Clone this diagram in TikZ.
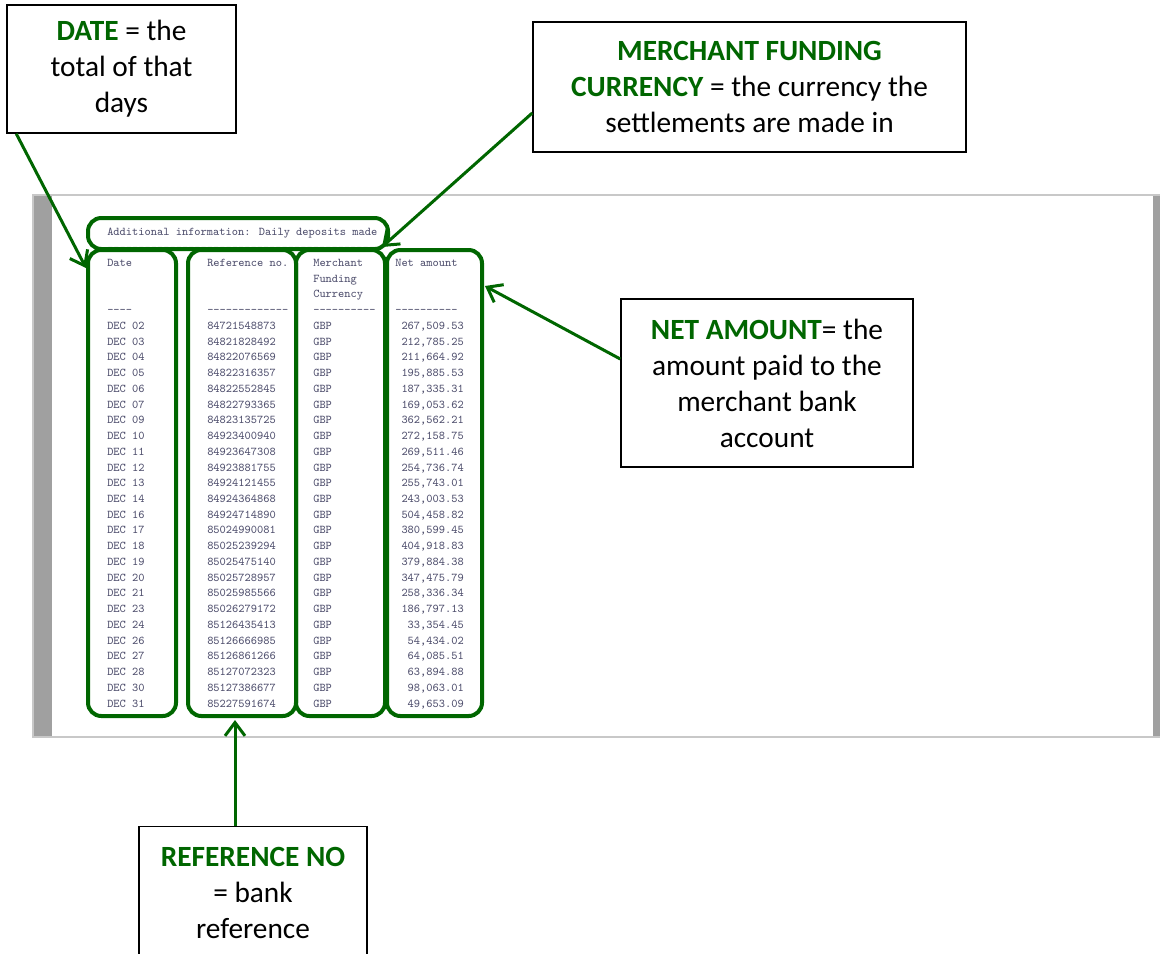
\documentclass[tikz,border=0pt]{standalone}
\usepackage{fontspec}
\setmainfont{Carlito}
\usetikzlibrary{positioning,fit,calc,arrows.meta}
\definecolor{notegreen}{RGB}{0,102,0}
\definecolor{listgrey}{RGB}{80,80,110}
\definecolor{panelline}{RGB}{200,200,200}
\definecolor{panelbar}{RGB}{160,160,160}
\tikzstyle{note}=[rectangle,draw=black,line width=1.1pt,fill=white,align=center,inner sep=0pt,font=\fontsize{22}{27}\selectfont]
\tikzstyle{colbox}=[rectangle,draw=notegreen,line width=3pt,rounded corners=10pt,inner sep=0pt]
\tikzstyle{listing}=[anchor=base west,align=left,inner sep=0pt,text=listgrey,font=\ttfamily\fontsize{8.9}{11.8}\selectfont]
\tikzstyle{pointer}=[-{Straight Barb[length=10pt,width=15pt]},draw=notegreen,line width=2.25pt]
\newcommand{\kw}[1]{\textcolor{notegreen}{\textbf{#1}}}
\newcommand{\numpad}{\hphantom{0}}

\begin{document}
\begin{tikzpicture}[x=0.75pt,y=-0.75pt]
    \useasboundingbox (0,0) rectangle (1160,953);

    % Auszug (base = letzte Zeile)
    \node[draw=panelline, line width=1.5pt, inner sep=0pt, fit={(33,195) (1175,737)}] (panel) {};
    \fill[panelbar] (34,196) rectangle (52,736);
    \fill[panelbar] (1153,196) rectangle (1175,736);

    \node[listing] (headtext) at (107,251.2) {Additional information: Daily deposits made\\ -------------------------------------------};
    \node[listing] (datetext) at (107,707) {Date\\ \mbox{}\\ \mbox{}\\ ----\\ DEC 02\\ DEC 03\\ DEC 04\\ DEC 05\\ DEC 06\\ DEC 07\\ DEC 09\\ DEC 10\\ DEC 11\\ DEC 12\\ DEC 13\\ DEC 14\\ DEC 16\\ DEC 17\\ DEC 18\\ DEC 19\\ DEC 20\\ DEC 21\\ DEC 23\\ DEC 24\\ DEC 26\\ DEC 27\\ DEC 28\\ DEC 30\\ DEC 31};
    \node[listing] (reftext) at (207,707) {Reference no.\\ \mbox{}\\ \mbox{}\\ -------------\\ 84721548873\\ 84821828492\\ 84822076569\\ 84822316357\\ 84822552845\\ 84822793365\\ 84823135725\\ 84923400940\\ 84923647308\\ 84923881755\\ 84924121455\\ 84924364868\\ 84924714890\\ 85024990081\\ 85025239294\\ 85025475140\\ 85025728957\\ 85025985566\\ 85026279172\\ 85126435413\\ 85126666985\\ 85126861266\\ 85127072323\\ 85127386677\\ 85227591674};
    \node[listing] (curtext) at (313,707) {Merchant\\ Funding\\ Currency\\ ----------\\ GBP\\ GBP\\ GBP\\ GBP\\ GBP\\ GBP\\ GBP\\ GBP\\ GBP\\ GBP\\ GBP\\ GBP\\ GBP\\ GBP\\ GBP\\ GBP\\ GBP\\ GBP\\ GBP\\ GBP\\ GBP\\ GBP\\ GBP\\ GBP\\ GBP};
    \node[listing] (nettext) at (395,707) {Net amount\\ \mbox{}\\ \mbox{}\\ ----------\\ \numpad267,509.53\\ \numpad212,785.25\\ \numpad211,664.92\\ \numpad195,885.53\\ \numpad187,335.31\\ \numpad169,053.62\\ \numpad362,562.21\\ \numpad272,158.75\\ \numpad269,511.46\\ \numpad254,736.74\\ \numpad255,743.01\\ \numpad243,003.53\\ \numpad504,458.82\\ \numpad380,599.45\\ \numpad404,918.83\\ \numpad379,884.38\\ \numpad347,475.79\\ \numpad258,336.34\\ \numpad186,797.13\\ \numpad\numpad33,354.45\\ \numpad\numpad54,434.02\\ \numpad\numpad64,085.51\\ \numpad\numpad63,894.88\\ \numpad\numpad98,063.01\\ \numpad\numpad49,653.09};

    % Markierungen
    \node[colbox, fit={(88,218) (388,249)}] (headbox) {};
    \node[colbox, fit={(88,250) (176,716)}] (datebox) {};
    \node[colbox, fit={(188,250) (296,716)}] (refbox) {};
    \node[colbox, fit={(296,250) (385,716)}] (curbox) {};
    \node[colbox, fit={(387,250) (482,716)}] (netbox) {};

    % Erklaerungen
    \node[note, minimum width=171.75pt, minimum height=96pt] (datenote) at (121.5,69) {\kw{DATE} = the\\ total of that\\ days};
    \node[note, minimum width=324.75pt, minimum height=97.5pt] (curnote) at (749.5,87) {\kw{MERCHANT FUNDING}\\ \kw{CURRENCY} = the currency the\\ settlements are made in};
    \node[note, minimum width=219pt, minimum height=126pt] (netnote) at (767,383) {\kw{NET AMOUNT}= the\\ amount paid to the\\ merchant bank\\ account};
    \node[note, anchor=north, minimum width=171pt, minimum height=100pt] (refnote) at (253,826) {\kw{REFERENCE NO}\\ = bank\\ reference};

    % Pfeile
    \draw [pointer] ($(datenote.south west)+(10,0)$) to ($(datebox.north west)+(0,20)$);
    \draw [pointer] ($(curnote.west)+(0,26)$) to ($(headbox.south east)+(-8,-4)$);
    \draw [pointer] ($(netnote.west)+(0,-24)$) to ($(netbox.north east)+(1,38)$);
    \draw [pointer] ($(refnote.north)+(-18,0)$) to ($(refbox.south)+(-7,2)$);

\end{tikzpicture}
\end{document}
